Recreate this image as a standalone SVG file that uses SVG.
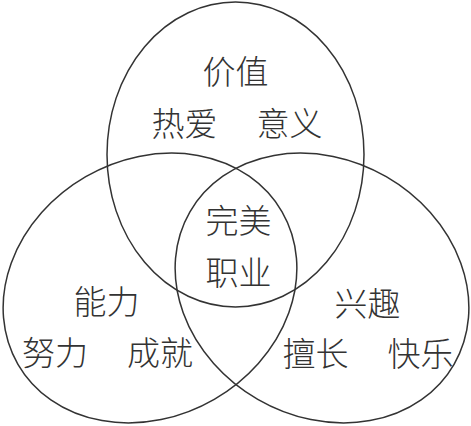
<svg xmlns="http://www.w3.org/2000/svg" width="471" height="426" viewBox="0 0 471 426">
<style>
.c{fill:none;stroke:#333;stroke-width:1.5}
.t{font-family:"Noto Sans CJK SC","Noto Sans CJK JP",sans-serif;font-size:33px;font-weight:300;fill:#333;text-anchor:middle;dominant-baseline:central}
</style>
<rect width="471" height="426" fill="#fff"/>
<g id="connectors"></g>
<g id="value">
<ellipse class="c" cx="235.5" cy="154.5" rx="128.5" ry="152.5"/>
<text class="t" x="235.5" y="70">价值</text>
<text class="t" x="184.5" y="122">热爱</text>
<text class="t" x="289.5" y="122">意义</text>
</g>
<g id="ability">
<ellipse class="c" cx="150" cy="288" rx="152.5" ry="128.5" transform="rotate(-30 150 288)"/>
<text class="t" x="106.5" y="300">能力</text>
<text class="t" x="55" y="351">努力</text>
<text class="t" x="160" y="351">成就</text>
</g>
<g id="interest">
<ellipse class="c" cx="322" cy="288" rx="152.5" ry="128.5" transform="rotate(30 322 288)"/>
<text class="t" x="367.5" y="302">兴趣</text>
<text class="t" x="315.5" y="352">擅长</text>
<text class="t" x="420.5" y="352">快乐</text>
</g>
<g id="perfect">
<text class="t" x="238.5" y="219">完美</text>
<text class="t" x="238.5" y="271">职业</text>
</g>
</svg>
